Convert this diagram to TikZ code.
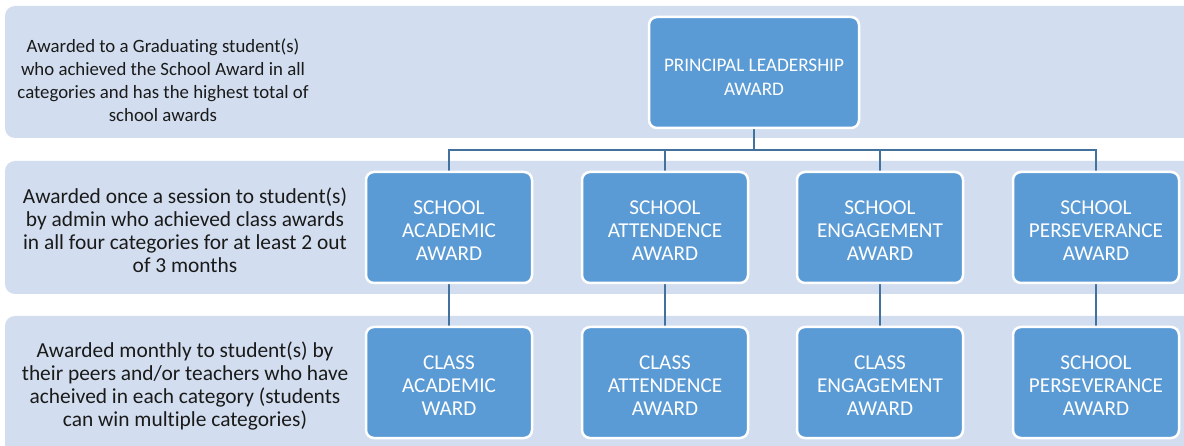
\documentclass[tikz,border=0pt]{standalone}
\usepackage{fontspec}
\setmainfont{Carlito}[RawFeature=-liga]
\definecolor{band}{HTML}{D2DEEF}
\definecolor{boxblue}{HTML}{5B9BD5}
\definecolor{conn}{HTML}{41719C}
\definecolor{txt}{HTML}{1A1A1A}
\pgfdeclarelayer{bg}
\pgfdeclarelayer{mid}
\pgfsetlayers{bg,mid,main}
\newcommand\padS{\rule{0pt}{19.7pt}}
\newcommand\padP{\rule{0pt}{21.5pt}}
\begin{document}
\begin{tikzpicture}[x=1pt,y=-1pt,
  bandbox/.style={fill=band,rounded corners=10pt,draw=none},
  desc/.style={align=center,text=txt,font=\fontsize{21.4}{23}\selectfont,inner sep=0pt},
  award/.style={fill=boxblue,draw=white,line width=2.5pt,rounded corners=8pt,
    minimum width=166pt,minimum height=111pt,align=center,text=white,
    font=\fontsize{21.2}{23}\selectfont,inner sep=2pt},
  link/.style={draw=conn,line width=2pt}]
\useasboundingbox (0,0) rectangle (1184,446);
\begin{pgfonlayer}{bg}
\fill[white] (0,0) rectangle (1184,446);
\path[bandbox] (5,6) rectangle (1200,138);
\path[bandbox] (5,161) rectangle (1200,294);
\path[bandbox] (5,316) rectangle (1200,460);
\end{pgfonlayer}
% descriptions
\node[desc,font=\fontsize{18.8}{23}\selectfont] (d1) at (163,80) {Awarded to a Graduating student(s)\\who achieved the School Award in all\\categories and has the highest total of\\school awards};
\node[desc] (d2) at (185,230) {Awarded once a session to student(s)\\by admin who achieved class awards\\in all four categories for at least 2 out\\of 3 months};
\node[desc] (d3) at (185,386) {Awarded monthly to student(s) by\\their peers and/or teachers who have\\acheived in each category (students\\can win multiple categories)};
% nodes
\node[award,minimum width=210pt,font=\fontsize{19.2}{24}\selectfont] (p) at (754,72.5) {\padP PRINCIPAL LEADERSHIP\\AWARD};
\node[award] (s1) at (449,227.5) {\padS SCHOOL\\ACADEMIC\\AWARD};
\node[award] (s2) at (665,227.5) {\padS SCHOOL\\ATTENDENCE\\AWARD};
\node[award] (s3) at (880,227.5) {\padS SCHOOL\\ENGAGEMENT\\AWARD};
\node[award] (s4) at (1096,227.5) {\padS SCHOOL\\PERSEVERANCE\\AWARD};
\node[award] (c1) at (449,382.5) {\padS CLASS\\ACADEMIC\\WARD};
\node[award] (c2) at (665,382.5) {\padS CLASS\\ATTENDENCE\\AWARD};
\node[award] (c3) at (880,382.5) {\padS CLASS\\ENGAGEMENT\\AWARD};
\node[award] (c4) at (1096,382.5) {\padS SCHOOL\\PERSEVERANCE\\AWARD};
% connectors
\coordinate (bus) at (754,150);
\begin{pgfonlayer}{mid}
\foreach \s in {s1,s2,s3,s4}{
  \draw[link] (p.south) -- (p.south |- bus) -| (\s.north);
}
\draw[link] (s1.south) -- (c1.north);
\draw[link] (s2.south) -- (c2.north);
\draw[link] (s3.south) -- (c3.north);
\draw[link] (s4.south) -- (c4.north);
\end{pgfonlayer}
\end{tikzpicture}
\end{document}
